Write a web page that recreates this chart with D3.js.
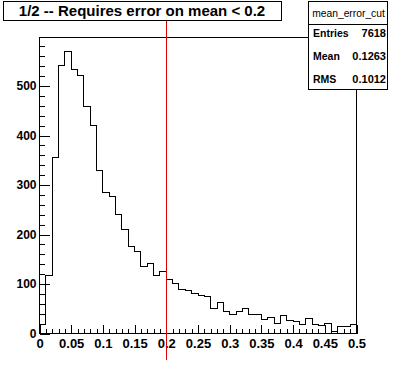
<!DOCTYPE html>
<html>
<head>
<meta charset="utf-8">
<script src="https://cdn.jsdelivr.net/npm/d3@7"></script>
<style>
  body { margin: 0; background: #fff; }
  svg { display: block; }
  text { font-family: "Liberation Sans", Arial, Helvetica, sans-serif; }
</style>
</head>
<body>
<script>
// histogram contents, 50 bins of 0.01 between 0 and 0.5
binWidth = 0.01;
counts = [19, 117, 356, 542, 570, 534, 522, 459, 420, 329,
          285, 277, 241, 210, 175, 166, 135, 141, 117, 125,
          109, 101, 89, 86, 80, 77, 74, 51, 62, 44,
          38, 44, 50, 38, 38, 28, 32, 20, 36, 27,
          24, 18, 30, 18, 16, 20, 5, 14, 14, 18];

xMajor = [0, 0.05, 0.1, 0.15, 0.2, 0.25, 0.3, 0.35, 0.4, 0.45, 0.5];
xLabels = ["0", "0.05", "0.1", "0.15", "0.2", "0.25", "0.3", "0.35", "0.4", "0.45", "0.5"];
xMinor = d3.range(0, 51).map(i => i / 100);
yMajor = [0, 100, 200, 300, 400, 500];
yMinor = d3.range(0, 600, 20);

titleText = "1/2 -- Requires error on mean < 0.2";
statsName = "mean_error_cut";
statsRows = [["Entries", "7618"], ["Mean", "0.1263"], ["RMS", "0.1012"]];
cutValue = 0.2;

width = 396;
height = 372;

svg = d3.select("body").append("svg")
    .attr("width", width)
    .attr("height", height);

x = d3.scaleLinear().domain([0, 0.5]).range([39.5, 356.5]);
y = d3.scaleLinear().domain([0, 598]).range([333.5, 37.5]);

// frame
svg.append("rect")
    .attr("x", 39.5).attr("y", 37.5)
    .attr("width", 317).attr("height", 296)
    .attr("fill", "none").attr("stroke", "#000").attr("shape-rendering", "crispEdges");

// axes (ticks point inward like ROOT)
xAxis = svg.append("g").attr("transform", "translate(0,333.5)")
    .call(d3.axisBottom(x).tickValues(xMajor).tickSize(-9).tickPadding(5)
        .tickFormat((d, i) => xLabels[i]));
svg.append("g").attr("transform", "translate(0,333.5)")
    .call(d3.axisBottom(x).tickValues(xMinor).tickSize(-4.5).tickFormat(""));

yAxis = svg.append("g").attr("transform", "translate(39.5,0)")
    .call(d3.axisLeft(y).tickValues(yMajor).tickSize(-10).tickPadding(3));
svg.append("g").attr("transform", "translate(39.5,0)")
    .call(d3.axisLeft(y).tickValues(yMinor).tickSize(-5).tickFormat(""));

svg.selectAll(".domain").remove();
svg.selectAll(".tick line").attr("stroke", "#000").attr("shape-rendering", "crispEdges");
xAxis.selectAll("text").attr("font-size", 13).attr("font-weight", "bold")
    .attr("font-family", "Liberation Sans, Arial, sans-serif").attr("fill", "#000");
yAxis.selectAll("text").attr("font-size", 12).attr("font-weight", "bold")
    .attr("font-family", "Liberation Sans, Arial, sans-serif").attr("fill", "#000");

// histogram outline
pts = [[0, 0]].concat(counts.map((c, i) => [i * binWidth, c]));
pts.push([counts.length * binWidth, counts[counts.length - 1]]);
pts.push([counts.length * binWidth, 0]);

svg.append("path")
    .datum(pts)
    .attr("d", d3.line().x(d => x(d[0])).y(d => y(d[1])).curve(d3.curveStepAfter))
    .attr("fill", "none")
    .attr("stroke", "#000")
    .attr("stroke-width", 1)
    .attr("shape-rendering", "crispEdges");

// cut line
svg.append("line")
    .attr("x1", x(cutValue)).attr("x2", x(cutValue))
    .attr("y1", 21).attr("y2", 359.5)
    .attr("stroke", "#e00000").attr("stroke-width", 1)
    .attr("shape-rendering", "crispEdges");

// title box
svg.append("rect")
    .attr("x", 3.5).attr("y", 1.5).attr("width", 278).attr("height", 19)
    .attr("fill", "#fff").attr("stroke", "#000").attr("shape-rendering", "crispEdges");
svg.append("text")
    .attr("x", 142).attr("y", 16)
    .attr("text-anchor", "middle")
    .attr("font-size", 15).attr("font-weight", "bold")
    .text(titleText);

// stats box
stats = svg.append("g");
stats.append("rect")
    .attr("x", 308.5).attr("y", 1.5).attr("width", 79).attr("height", 88)
    .attr("fill", "#fff").attr("stroke", "#000").attr("shape-rendering", "crispEdges");
stats.append("line")
    .attr("x1", 308.5).attr("x2", 387.5).attr("y1", 24.5).attr("y2", 24.5)
    .attr("stroke", "#000").attr("shape-rendering", "crispEdges");
stats.append("text")
    .attr("x", 348.5).attr("y", 17)
    .attr("text-anchor", "middle")
    .attr("font-size", 10.3)
    .text(statsName);
statsRows.forEach((r, i) => {
    stats.append("text")
        .attr("x", 313).attr("y", 37 + i * 23)
        .attr("font-size", 10.5).attr("font-weight", "bold")
        .text(r[0]);
    stats.append("text")
        .attr("x", 386).attr("y", 37 + i * 23)
        .attr("text-anchor", "end")
        .attr("font-size", 11).attr("font-weight", "bold")
        .text(r[1]);
});
</script>
</body>
</html>
